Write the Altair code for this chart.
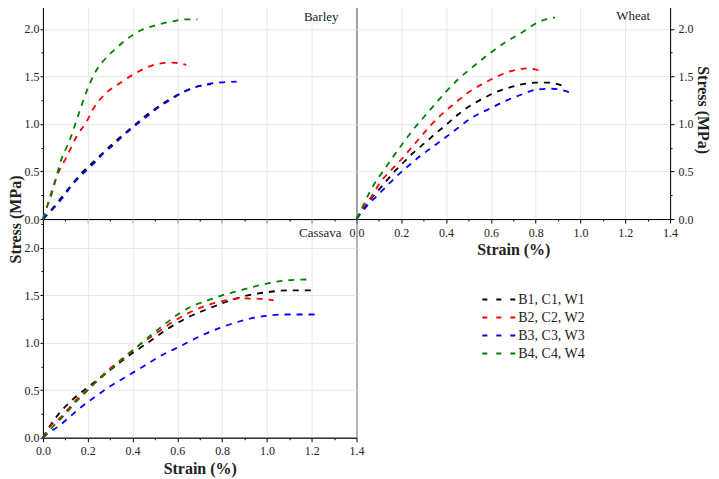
import altair as alt
import pandas as pd

SERIES = ["B1, C1, W1", "B2, C2, W2", "B3, C3, W3", "B4, C4, W4"]
COLORS = ["#000000", "#ff0000", "#0000ff", "#008000"]

X_TICKS = [0.0, 0.1, 0.2, 0.3, 0.4, 0.5, 0.6, 0.7, 0.8, 0.9, 1.0, 1.1, 1.2, 1.3, 1.4]
Y_TICKS = [0.0, 0.25, 0.5, 0.75, 1.0, 1.25, 1.5, 1.75, 2.0, 2.25]

# ---- Barley ----
barley_b1_x = [0, 0.05, 0.09, 0.135, 0.18, 0.225, 0.27, 0.315, 0.36, 0.405, 0.46, 0.52, 0.58, 0.64, 0.70, 0.75]
barley_b1_y = [0, 0.13, 0.25, 0.38, 0.50, 0.60, 0.70, 0.80, 0.89, 0.98, 1.09, 1.19, 1.28, 1.35, 1.40, 1.42]
barley_b2_x = [0, 0.018, 0.062, 0.107, 0.151, 0.196, 0.225, 0.284, 0.344, 0.403, 0.46, 0.52, 0.58, 0.64]
barley_b2_y = [0, 0.13, 0.45, 0.66, 0.87, 1.03, 1.16, 1.33, 1.43, 1.52, 1.59, 1.635, 1.645, 1.62]
barley_b3_x = [0, 0.05, 0.09, 0.135, 0.18, 0.225, 0.27, 0.315, 0.36, 0.405, 0.46, 0.52, 0.58, 0.64, 0.70, 0.76, 0.82, 0.865]
barley_b3_y = [0, 0.12, 0.23, 0.37, 0.48, 0.58, 0.69, 0.78, 0.88, 0.97, 1.07, 1.18, 1.27, 1.35, 1.40, 1.43, 1.44, 1.445]
barley_b4_x = [0, 0.02, 0.04, 0.077, 0.121, 0.166, 0.196, 0.24, 0.284, 0.329, 0.373, 0.433, 0.507, 0.58, 0.64, 0.69]
barley_b4_y = [0, 0.14, 0.27, 0.59, 0.84, 1.15, 1.35, 1.57, 1.70, 1.80, 1.89, 1.98, 2.04, 2.08, 2.10, 2.10]

# ---- Wheat ----
wheat_w1_x = [0, 0.045, 0.082, 0.119, 0.164, 0.208, 0.253, 0.305, 0.357, 0.402, 0.454, 0.506, 0.559, 0.618, 0.678, 0.737, 0.797, 0.856, 0.923]
wheat_w1_y = [0, 0.15, 0.26, 0.36, 0.485, 0.59, 0.696, 0.80, 0.907, 0.995, 1.10, 1.19, 1.26, 1.33, 1.38, 1.416, 1.434, 1.434, 1.40]
wheat_w2_x = [0, 0.037, 0.074, 0.104, 0.149, 0.2, 0.238, 0.283, 0.328, 0.38, 0.44, 0.499, 0.559, 0.618, 0.678, 0.737, 0.767, 0.819]
wheat_w2_y = [0, 0.14, 0.26, 0.38, 0.50, 0.626, 0.73, 0.854, 0.977, 1.10, 1.22, 1.33, 1.416, 1.487, 1.547, 1.58, 1.585, 1.56]
wheat_w3_x = [0, 0.045, 0.09, 0.134, 0.179, 0.23, 0.283, 0.335, 0.395, 0.454, 0.514, 0.588, 0.663, 0.737, 0.812, 0.871, 0.916, 0.965]
wheat_w3_y = [0, 0.134, 0.24, 0.345, 0.45, 0.555, 0.66, 0.75, 0.854, 0.96, 1.065, 1.153, 1.24, 1.31, 1.364, 1.37, 1.357, 1.32]
wheat_w4_x = [0, 0.037, 0.06, 0.097, 0.134, 0.171, 0.208, 0.253, 0.298, 0.35, 0.402, 0.454, 0.514, 0.588, 0.663, 0.737, 0.812, 0.886]
wheat_w4_y = [0, 0.176, 0.29, 0.43, 0.555, 0.68, 0.80, 0.94, 1.065, 1.205, 1.346, 1.47, 1.59, 1.73, 1.856, 1.96, 2.07, 2.12]

# ---- Cassava ----
cassava_c1_x = [0, 0.03, 0.067, 0.127, 0.194, 0.254, 0.321, 0.4, 0.478, 0.552, 0.642, 0.731, 0.82, 0.91, 1.0, 1.09, 1.2]
cassava_c1_y = [0, 0.12, 0.24, 0.39, 0.52, 0.627, 0.75, 0.89, 1.014, 1.137, 1.26, 1.35, 1.43, 1.495, 1.53, 1.549, 1.549]
cassava_c2_x = [0, 0.015, 0.09, 0.149, 0.216, 0.284, 0.358, 0.433, 0.507, 0.597, 0.701, 0.79, 0.88, 0.97, 1.03]
cassava_c2_y = [0, 0.063, 0.24, 0.40, 0.54, 0.697, 0.838, 0.979, 1.10, 1.243, 1.366, 1.43, 1.465, 1.461, 1.444]
cassava_c3_x = [0, 0.022, 0.067, 0.112, 0.164, 0.224, 0.299, 0.373, 0.448, 0.522, 0.612, 0.701, 0.79, 0.88, 0.985, 1.09, 1.216]
cassava_c3_y = [0, 0.046, 0.116, 0.204, 0.31, 0.415, 0.539, 0.644, 0.75, 0.856, 0.961, 1.067, 1.155, 1.225, 1.278, 1.296, 1.296]
cassava_c4_x = [0, 0.052, 0.097, 0.142, 0.187, 0.231, 0.284, 0.336, 0.388, 0.44, 0.493, 0.552, 0.612, 0.672, 0.731, 0.79, 0.88, 0.97, 1.06, 1.149, 1.2]
cassava_c4_y = [0, 0.134, 0.24, 0.363, 0.468, 0.574, 0.68, 0.785, 0.89, 0.996, 1.10, 1.208, 1.313, 1.39, 1.44, 1.49, 1.55, 1.605, 1.648, 1.662, 1.665]

PANELS = {
    "Barley": [(barley_b1_x, barley_b1_y), (barley_b2_x, barley_b2_y), (barley_b3_x, barley_b3_y), (barley_b4_x, barley_b4_y)],
    "Wheat": [(wheat_w1_x, wheat_w1_y), (wheat_w2_x, wheat_w2_y), (wheat_w3_x, wheat_w3_y), (wheat_w4_x, wheat_w4_y)],
    "Cassava": [(cassava_c1_x, cassava_c1_y), (cassava_c2_x, cassava_c2_y), (cassava_c3_x, cassava_c3_y), (cassava_c4_x, cassava_c4_y)],
}


def panel_frame(name):
    rows = []
    for s, (xs, ys) in zip(SERIES, PANELS[name]):
        for x, y in zip(xs, ys):
            rows.append({"series": s, "strain": x, "stress": y})
    return pd.DataFrame(rows)


FONT = "Liberation Serif"
TEXT = "#222222"
W, H = 314, 219

X_MAJOR = "round(datum.value * 10) % 2 == 0"
Y_MAJOR = "round(datum.value * 4) % 2 == 0"


def x_axis(show_labels):
    kw = dict(
        values=X_TICKS,
        labelOverlap=False,
        labelFlush=False,
        tickSize={"condition": {"test": X_MAJOR, "value": 4}, "value": 2},
        gridOpacity={"condition": {"test": X_MAJOR, "value": 1}, "value": 0},
        tickColor="black",
        domainColor="black",
        gridColor="#e8e8e8",
        labelFont=FONT,
        labelFontSize=12,
        labelColor=TEXT,
        labelPadding=4,
    )
    if show_labels:
        kw.update(
            labels=True,
            labelExpr=f"{X_MAJOR} ? format(datum.value, '.1f') : ''",
            title="Strain (%)",
            titleFont=FONT,
            titleFontSize=16,
            titleFontWeight="bold",
            titleColor=TEXT,
            titlePadding=4,
        )
    else:
        kw.update(labels=False, title=None)
    return alt.Axis(**kw)


def y_axis(orient, title, title_y=None):
    left = orient == "left"
    kw = dict(
        orient=orient,
        values=Y_TICKS,
        labelOverlap=False,
        labelFlush=False,
        labelExpr=f"{Y_MAJOR} ? format(datum.value, '.1f') : ''",
        tickSize={"condition": {"test": Y_MAJOR, "value": 3 if left else 4}, "value": 2},
        gridOpacity={"condition": {"test": Y_MAJOR, "value": 1}, "value": 0},
        tickColor="black",
        domainColor="black",
        gridColor="#e8e8e8",
        labelFont=FONT,
        labelFontSize=12,
        labelColor=TEXT,
        labelPadding=1 if left else 4,
    )
    if title:
        kw.update(
            title="Stress (MPa)",
            titleFont=FONT,
            titleFontSize=16,
            titleFontWeight="bold",
            titleColor=TEXT,
            titlePadding=0 if left else 1,
        )
        if title_y is not None:
            kw["titleY"] = title_y
    else:
        kw["title"] = None
    return alt.Axis(**kw)


legend = alt.Legend(
    orient="none",
    legendX=439,
    legendY=291,
    title=None,
    symbolType="stroke",
    symbolStrokeWidth=2,
    symbolDash=[5, 9],
    symbolSize=1089,
    clipHeight=17.4,
    labelFont=FONT,
    labelFontSize=14,
    labelColor=TEXT,
    labelOffset=2,
    rowPadding=0,
    padding=0,
)

color = alt.Color(
    "series:N",
    scale=alt.Scale(domain=SERIES, range=COLORS),
    legend=legend,
)


def make_panel(name, xax, yax, label_x, label_y):
    base = alt.Chart(panel_frame(name))
    lines = base.mark_line(strokeDash=[6, 6], strokeWidth=1.8, interpolate="monotone").encode(
        x=alt.X("strain:Q", scale=alt.Scale(domain=[0, 1.4], nice=False), axis=xax),
        y=alt.Y("stress:Q", scale=alt.Scale(domain=[0, 2.3], nice=False), axis=yax),
        color=color,
    )
    label = alt.Chart(pd.DataFrame({"t": [name]})).mark_text(
        align="right", baseline="middle", font=FONT, fontSize=13, color=TEXT
    ).encode(x=alt.value(label_x), y=alt.value(label_y), text="t:N")
    return alt.layer(lines, label).properties(width=W, height=H)


barley = make_panel("Barley", x_axis(False), y_axis("left", True, title_y=H), 296, 16.5)
wheat = make_panel("Wheat", x_axis(True), y_axis("right", True), 294, 16)
cassava = make_panel("Cassava", x_axis(True), y_axis("left", False), 299, 14)

chart = alt.concat(barley, wheat, cassava, columns=2, spacing=0, bounds="flush").properties(
    padding={"left": -1, "top": -10, "right": 0, "bottom": 0},
    background="white",
).configure_view(
    stroke="black", strokeWidth=1
)

chart.save("out.html", embed_options={"renderer": "svg", "actions": False})
